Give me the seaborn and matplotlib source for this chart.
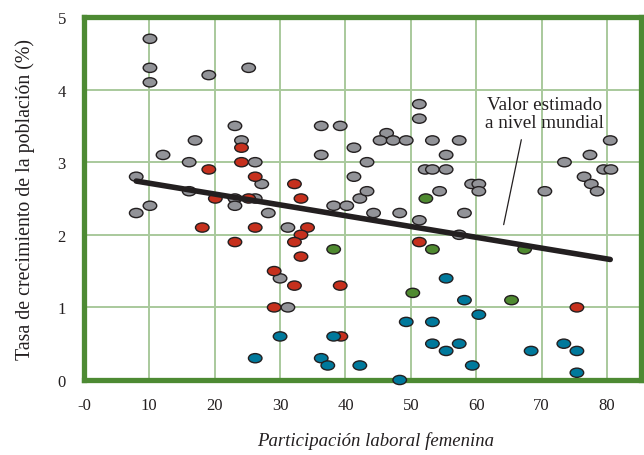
import matplotlib
matplotlib.use("Agg")
import matplotlib.pyplot as plt
import matplotlib.transforms as mtrans
from matplotlib.path import Path
import numpy as np
import pandas as pd
import seaborn as sns

# ---- data ----
gray_x = [10.1, 10.1, 10.1, 19.1, 25.2, 23.1, 17.0, 24.1, 12.1, 16.1, 26.2, 8.0, 27.2, 16.1,
          23.1, 26.2, 10.1, 23.1, 8.0, 28.2, 30.0, 31.2, 31.2,
          38.2, 40.2, 42.2, 43.3, 44.3, 48.3, 51.3, 58.2, 57.4, 54.4,
          51.3, 51.3, 36.3, 39.2, 46.3, 45.3, 47.3, 49.3, 53.3, 57.4, 36.3, 41.3, 55.4,
          43.3, 52.2, 53.3, 55.4, 41.3, 59.3, 60.4, 60.4,
          80.5, 77.4, 73.5, 79.5, 80.6, 76.5, 77.6, 78.5, 70.5]
gray_y = [4.7, 4.3, 4.1, 4.2, 4.3, 3.5, 3.3, 3.3, 3.1, 3.0, 3.0, 2.8, 2.7, 2.6,
          2.5, 2.5, 2.4, 2.4, 2.3, 2.3, 1.4, 2.1, 1.0,
          2.4, 2.4, 2.5, 2.6, 2.3, 2.3, 2.2, 2.3, 2.0, 2.6,
          3.8, 3.6, 3.5, 3.5, 3.4, 3.3, 3.3, 3.3, 3.3, 3.3, 3.1, 3.2, 3.1,
          3.0, 2.9, 2.9, 2.9, 2.8, 2.7, 2.7, 2.6,
          3.3, 3.1, 3.0, 2.9, 2.9, 2.8, 2.7, 2.6, 2.6]

red_x = [24.1, 24.1, 19.1, 26.2, 20.1, 25.2, 18.1, 26.2, 23.1, 29.1, 29.1, 33.2, 32.2,
         34.2, 33.2, 32.2, 33.2, 32.2, 39.2, 51.3, 39.3, 75.4]
red_y = [3.2, 3.0, 2.9, 2.8, 2.5, 2.5, 2.1, 2.1, 1.9, 1.5, 1.0, 2.5, 2.7,
         2.1, 2.0, 1.9, 1.7, 1.3, 1.3, 1.9, 0.6, 1.0]

green_x = [52.3, 38.2, 53.3, 67.4, 50.3, 65.4]
green_y = [2.5, 1.8, 1.8, 1.8, 1.2, 1.1]

teal_x = [30.0, 26.2, 55.4, 58.2, 49.3, 53.3, 38.2, 53.3, 57.4, 55.4, 59.4, 36.3, 37.3,
          42.2, 48.3, 60.4, 68.4, 73.4, 75.4, 75.4]
teal_y = [0.6, 0.3, 1.4, 1.1, 0.8, 0.8, 0.6, 0.5, 0.5, 0.4, 0.2, 0.3, 0.2,
          0.2, 0.0, 0.9, 0.4, 0.5, 0.4, 0.1]

trend_x = [8.0, 80.5]
trend_y = [2.74, 1.66]

x_ticks = [0, 10, 20, 30, 40, 50, 60, 70, 80]
x_tick_labels = ["-0", "10", "20", "30", "40", "50", "60", "70", "80"]
y_ticks = [0, 1, 2, 3, 4, 5]
y_tick_labels = ["0", "1", "2", "3", "4", "5"]

groups = ["gris", "rojo", "verde", "azul"]
colors = {"gris": "#929398", "rojo": "#c6301d", "verde": "#4f8a30", "azul": "#00799c"}

df = pd.concat([
    pd.DataFrame({"x": gray_x, "y": gray_y, "g": "gris"}),
    pd.DataFrame({"x": red_x, "y": red_y, "g": "rojo"}),
    pd.DataFrame({"x": green_x, "y": green_y, "g": "verde"}),
    pd.DataFrame({"x": teal_x, "y": teal_y, "g": "azul"}),
], ignore_index=True)
trend = pd.DataFrame({"x": trend_x, "y": trend_y})

sns.set_style("white")
plt.rcParams["font.family"] = ["Liberation Serif", "DejaVu Serif"]

fig = plt.figure(figsize=(6.44, 4.56), dpi=100)
ax = fig.add_axes([0.1303, 0.1645, 0.865, 0.796])

ell = Path.unit_circle().transformed(mtrans.Affine2D().scale(1.0, 0.68))

sns.scatterplot(data=df, x="x", y="y", hue="g", hue_order=groups, palette=colors,
                marker=ell, s=95, edgecolor="#231f20", linewidth=1.0,
                legend=False, ax=ax, zorder=5, clip_on=False)
sns.lineplot(data=trend, x="x", y="y", color="#231f20", linewidth=4.0,
             solid_capstyle="round", ax=ax, zorder=6)

ax.set_xlim(0, 85.2)
ax.set_ylim(0, 5)
ax.set_xticks(x_ticks)
ax.set_xticklabels(x_tick_labels)
ax.set_yticks(y_ticks)
ax.set_yticklabels(y_tick_labels)
ax.tick_params(axis="both", length=0, labelsize=12, colors="#231f20")
ax.tick_params(axis="x", pad=12)
ax.tick_params(axis="y", pad=13)

ax.grid(True, color="#a9c99c", linewidth=1.4)
ax.set_axisbelow(True)
for sp in ax.spines.values():
    sp.set_visible(True)
    sp.set_color("#4d8a33")
    sp.set_linewidth(3.8)
    sp.set_zorder(4)

ax.set_xlabel("Participación laboral femenina", fontsize=13.5, style="italic",
              color="#231f20", labelpad=13)
ax.xaxis.label.set_x(0.523)
ax.set_ylabel("Tasa de crecimiento de la población (%)", fontsize=14.3,
              color="#231f20", labelpad=16)

ax.text(70.4, 3.43, "Valor estimado\na nivel mundial", fontsize=13.8,
        ha="center", va="bottom", color="#231f20", linespacing=1.05, zorder=7)
ax.plot([66.9, 64.2], [3.31, 2.14], color="#231f20", linewidth=0.9, zorder=7)

fig.savefig("out.png", dpi=100)
